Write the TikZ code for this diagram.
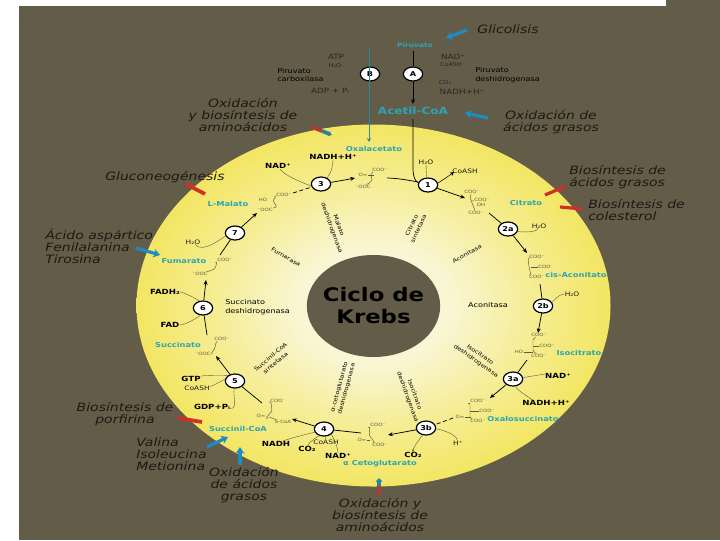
\documentclass[tikz,border=0pt]{standalone}
\usepackage{fontspec}
\setmainfont[FakeStretch=1.22]{DejaVu Sans}
\usepackage{xcolor}
\usetikzlibrary{arrows.meta,shapes.geometric}
\definecolor{slidebrown}{HTML}{635C48}
\definecolor{ringyellow}{HTML}{F3E663}
\definecolor{ringcream}{HTML}{F9F6D4}
\definecolor{metateal}{HTML}{2BA5B5}
\definecolor{pointblue}{HTML}{1E8CC4}
\definecolor{pointred}{HTML}{CF3129}
\definecolor{labeldark}{HTML}{1B1912}
\definecolor{moldark}{HTML}{5E5A3C}
\pgfdeclareradialshading{ringshade}{\pgfpoint{0bp}{0bp}}{color(0bp)=(ringcream); color(8bp)=(ringcream); color(17bp)=(ringyellow!58!ringcream); color(25bp)=(ringyellow); color(50bp)=(ringyellow)}
\begin{document}
\begin{tikzpicture}[
    x=0.75pt,y=-0.75pt,
    stepnode/.style={draw=black,ellipse,fill=white,line width=0.9pt,inner sep=0pt,minimum width=14.5pt,minimum height=10.5pt,font=\bfseries\fontsize{5}{5}\selectfont},
    pathway/.style={font=\itshape\fontsize{8.6}{9}\selectfont,text=labeldark,align=center,inner sep=0pt},
    metab/.style={font=\bfseries\fontsize{5.1}{6}\selectfont,text=metateal,inner sep=0pt},
    cofbold/.style={font=\bfseries\fontsize{5.3}{6}\selectfont,text=black,inner sep=0pt},
    cofsmall/.style={font=\fontsize{4.6}{6}\selectfont,text=labeldark,inner sep=0pt},
    darkcof/.style={font=\fontsize{5.4}{6}\selectfont,text=black!85,inner sep=0pt},
    enzyme/.style={font=\fontsize{5}{6.6}\selectfont,text=black,align=center,inner sep=0pt},
    rotenzyme/.style={enzyme,font=\fontsize{4.1}{5.6}\selectfont},
    molbit/.style={font=\fontsize{3.3}{4}\selectfont,text=moldark,inner sep=0.3pt},
    molline/.style={moldark,line width=0.35pt,rounded corners=1pt},
    flow/.style={-{Stealth[length=3.6pt,width=3pt]},line width=0.55pt,black},
    plainflow/.style={line width=0.55pt,black},
    cofline/.style={line width=0.3pt,moldark},
    bluepoint/.style={-{Stealth[length=5pt,width=6.5pt]},line width=2.4pt,pointblue},
    redpoint/.style={-{Stealth[length=3.5pt,width=4pt]},line width=2.4pt,pointred},
    redbar/.style={line width=2.8pt,pointred}
  ]
    \useasboundingbox (0,0) rectangle (720,540);
    \fill[white] (0,0) rectangle (720,540);
    \fill[slidebrown] (19,6) rectangle (720,540);
    \fill[slidebrown] (666,0) rectangle (720,6);

    % ring and hole
    \node[ellipse,minimum width=355.5pt,minimum height=271.5pt,inner sep=0pt,shading=ringshade] (ring) at (373.5,305.5) {};
    \node[ellipse,fill=slidebrown,minimum width=100pt,minimum height=76.5pt,inner sep=0pt] (hole) at (373.5,306) {};
    \node[font=\bfseries\fontsize{14}{16.5}\selectfont,text=black,align=center,inner sep=0pt] (title) at (hole) {Ciclo de\\Krebs};

    % steps of the cycle
    \node[stepnode] (stepA) at (413,74) {A};
    \node[stepnode] (stepB) at (370,74) {B};
    \node[stepnode] (step1) at (428,185) {1};
    \node[stepnode] (step2a) at (508,229) {2a};
    \node[stepnode] (step2b) at (543,306) {2b};
    \node[stepnode] (step3a) at (513,379) {3a};
    \node[stepnode] (step3b) at (426,428) {3b};
    \node[stepnode] (step4) at (324,429) {4};
    \node[stepnode] (step5) at (235,381) {5};
    \node[stepnode] (step6) at (203,308) {6};
    \node[stepnode] (step7) at (235,233) {7};
    \node[stepnode] (step8) at (321,184) {3};

    % metabolites
    \node[metab,font=\bfseries\fontsize{4.6}{5}\selectfont] (piruvato) at (415,45) {Piruvato};
    \node[metab,font=\bfseries\fontsize{7.4}{8}\selectfont] (acetil) at (413,111) {Acetil-CoA};
    \node[metab] (oxalo) at (374,149) {Oxalacetato};
    \node[metab] (citrato) at (526,203) {Citrato};
    \node[metab] (cisacon) at (576,275) {cis-Aconitato};
    \node[metab] (isocit) at (579,353) {Isocitrato};
    \node[metab] (oxsuc) at (523,419) {Oxalosuccinato};
    \node[metab] (cetog) at (380,464) {α\ Cetoglutarato};
    \node[metab] (succoa) at (238,429) {Succinil-CoA};
    \node[metab] (succ) at (178,345) {Succinato};
    \node[metab] (fuma) at (184,261) {Fumarato};
    \node[metab] (malato) at (228,204) {L-Malato};

    % pathways around the ring
    \node[pathway] (glico) at (508,29) {Glicolisis};
    \node[pathway] (oxaam) at (243,115) {Oxidación\\y biosíntesis de\\aminoácidos};
    \node[pathway] (oxgr) at (551,122) {Oxidación de\\ácidos grasos};
    \node[pathway,align=left,anchor=west] (bgr) at (569,177) {Biosíntesis de\\ácidos grasos};
    \node[pathway,align=left,anchor=west] (bcol) at (588,210) {Biosíntesis de\\colesterol};
    \node[pathway] (gluco) at (165,177) {Gluconeogénesis};
    \node[pathway,align=left,anchor=west] (aspar) at (45,246) {Ácido aspártico\\Fenilalanina\\Tirosina};
    \node[pathway] (porf) at (125,414) {Biosíntesis de\\porfirina};
    \node[pathway,align=left,anchor=west] (valina) at (136,454) {Valina\\Isoleucina\\Metionina};
    \node[pathway] (oxgr2) at (244,485) {Oxidación\\de ácidos\\grasos};
    \node[pathway] (oxaam2) at (380,515) {Oxidación y\\biosíntesis de\\aminoácidos};

    % enzymes
    \node[enzyme,align=left,anchor=west] (pcarb) at (277,75) {Piruvato\\carboxilasa};
    \node[enzyme,align=left,anchor=west] (pdes) at (475,75) {Piruvato\\deshidrogenasa};
    \node[rotenzyme,rotate=-70] (emal) at (335,227) {Malato\\deshidrogenasa};
    \node[rotenzyme,rotate=65] (ecit) at (415,227) {Citrato\\sintetasa};
    \node[rotenzyme,rotate=30] (eacon) at (467,254) {Aconitasa};
    \node[enzyme] (eacon2) at (488,305) {Aconitasa};
    \node[rotenzyme,rotate=-35] (eiso) at (478,358) {Isocitrato\\deshidrogenasa};
    \node[rotenzyme,rotate=-70] (eiso2) at (411,396) {Isocitrato\\deshidrogenasa};
    \node[rotenzyme,rotate=75] (ecet) at (343,388) {α-cetoglutarato\\deshidrogenasa};
    \node[rotenzyme,rotate=40] (esuc) at (273,360) {Succinil-CoA\\sintetasa};
    \node[enzyme,align=left,anchor=west] (esdh) at (225,307) {Succinato\\deshidrogenasa};
    \node[rotenzyme,rotate=-30] (efum) at (286,257) {Fumarasa};

    % cofactors
    \node[darkcof] (atp) at (336,57) {ATP};
    \node[darkcof,font=\fontsize{4}{5}\selectfont] (hoB) at (335,66) {H₂O};
    \node[darkcof] (adp) at (330,91) {ADP + Pᵢ};
    \node[darkcof] (nadA) at (453,57) {NAD⁺};
    \node[darkcof,font=\fontsize{4}{5}\selectfont] (coaA) at (451,65) {CoASH};
    \node[darkcof,font=\fontsize{4}{5}\selectfont] (coA) at (445,83) {CO₂};
    \node[darkcof] (nadhA) at (462,92) {NADH+H⁺};
    \node[cofbold] (nad8) at (278,166) {NAD⁺};
    \node[cofbold] (nadh8) at (333,157) {NADH+H⁺};
    \node[cofsmall] (ho1) at (426,162) {H₂O};
    \node[cofsmall] (coa1) at (465,171) {CoASH};
    \node[cofsmall] (ho2a) at (539,226) {H₂O};
    \node[cofsmall] (ho2b) at (572,294) {H₂O};
    \node[cofbold] (nad3a) at (558,376) {NAD⁺};
    \node[cofbold] (nadh3a) at (546,403) {NADH+H⁺};
    \node[cofbold] (co3b) at (413,455) {CO₂};
    \node[cofsmall] (h3b) at (458,443) {H⁺};
    \node[cofbold] (nad4) at (338,456) {NAD⁺};
    \node[cofbold] (co4) at (307,449) {CO₂};
    \node[cofsmall] (coa4) at (326,442) {CoASH};
    \node[cofbold] (nadh4) at (276,444) {NADH};
    \node[cofbold] (gtp) at (191,379) {GTP};
    \node[cofsmall] (coa5) at (197,388) {CoASH};
    \node[cofbold] (gdp) at (212,407) {GDP+Pᵢ};
    \node[cofbold] (fadh) at (165,292) {FADH₂};
    \node[cofbold] (fad) at (170,325) {FAD};
    \node[cofsmall] (ho7) at (193,242) {H₂O};

    % molecule pieces
    \foreach \name/\pos/\txt in {
        oxa1/{380,170}/COO⁻,oxa2/{363,175}/O=,oxa3/{363,187}/⁻OOC,
        cit1/{472,192}/COO⁻,cit2/{482,200}/COO⁻,cit3/{481,205}/OH,cit4/{476,213}/COO⁻,
        cis1/{537,257}/COO⁻,cis2/{546,267}/COO⁻,cis3/{537,277}/COO⁻,
        iso1/{539,335}/COO⁻,iso2/{547,346}/COO⁻,iso3/{519,352}/HO,iso4/{539,356}/COO⁻,
        oxs1/{478,401}/COO⁻,oxs2/{487,411}/COO⁻,oxs3/{460,417}/O=,oxs4/{478,421}/COO⁻,
        keto1/{378,425}/COO⁻,keto2/{362,440}/O=,keto3/{380,445}/COO⁻,
        suc1/{278,401}/COO⁻,suc2/{283,422}/S-CoA,suc3/{261,416}/O=,
        sn1/{222,339}/COO⁻,sn2/{203,354}/⁻OOC,
        fu1/{225,260}/COO⁻,fu2/{200,274}/⁻OOC,
        ma1/{284,195}/COO⁻,ma2/{263,200}/HO,ma3/{265,210}/⁻OOC}
      {\node[molbit] (\name) at (\pos) {\txt};}

    \draw[molline] (oxa1) -- ++(-9,3) -- ++(1,8) -- (oxa3);
    \draw[molline] (oxa2) -- ++(11,0);
    \draw[molline] (cit1) -- ++(-2,5) -- ++(2,6) -- (cit4);
    \draw[molline] (cit2) -- ++(-10,1);
    \draw[molline] (cis1) -- ++(-9,1) -- ++(1,9) -- ++(2,8) -- (cis3);
    \draw[molline] (cis2) -- ++(-15,0);
    \draw[molline] (iso1) -- ++(-6,4) -- ++(0,12) -- (iso4);
    \draw[molline] (iso2) -- ++(-14,0);
    \draw[molline] (iso3) -- ++(14,0);
    \draw[molline] (oxs1) -- ++(-8,2) -- ++(0,15) -- (oxs4);
    \draw[molline] (oxs2) -- ++(-17,0);
    \draw[molline] (oxs3) -- ++(10,0);
    \draw[molline] (keto1) -- ++(-8,2) -- ++(-1,8) -- ++(6,8) -- (keto3);
    \draw[molline] (keto2) -- ++(8,0);
    \draw[molline] (suc1) -- ++(-7,1) -- ++(1,9) -- ++(-6,7) -- (suc3);
    \draw[molline] (suc2) -- ++(-14,-5);
    \draw[molline] (sn1) -- ++(-6,3) -- ++(-1,6) -- ++(-4,6) -- (sn2);
    \draw[molline] (fu1) -- ++(-8,2) -- ++(-2,7) -- (fu2);
    \draw[molline] (ma1) -- ++(-8,1) -- ++(-3,5) -- ++(4,6) -- (ma3);

    % ends of the open arrows
    \foreach \name/\pos in {
        piruvS/{413,51},acetS/{413,104},acetE/{413,119},bTop/{369,47},bEnd/{369,142},
        endOne/{465,198},fromCit/{489,213},endTwoA/{527,253},fromCis/{540,284},
        endTwoB/{538,333},fromIso/{527,360},endThreeA/{490,398},fromOxs/{453,418},
        endThreeB/{388,435},fromKeto/{361,433},endFour/{292,419},fromSuc/{262,403},
        endFive/{216,356},fromSn/{207,335},endSix/{206,280},fromFu/{220,255},
        endSeven/{257,213},fromMa/{293,193},endEight/{355,178},fromOxa/{387,178},
        coaEnd/{454,172},coEnd/{436,83}}
      {\coordinate (\name) at (\pos);}

    % entry line
    \draw[plainflow] (piruvS) -- (stepA);
    \draw[flow] (stepA) -- (acetS);
    \draw[plainflow] (acetE) -- (413,168) .. controls (413,178) and (416,182) .. (step1);
    \draw[metateal!85!black,line width=0.6pt,-{Stealth[length=3pt,width=3pt]}] (bTop) -- (bEnd);

    % the cycle
    \draw[flow] (step1) -- (endOne);
    \draw[plainflow] (fromCit) -- (step2a);
    \draw[flow] (step2a) -- (endTwoA);
    \draw[plainflow] (fromCis) -- (step2b);
    \draw[flow] (step2b) -- (endTwoB);
    \draw[plainflow] (fromIso) -- (step3a);
    \draw[flow] (step3a) -- (endThreeA);
    \draw[plainflow,densely dashed] (fromOxs) -- (step3b);
    \draw[flow] (step3b) -- (endThreeB);
    \draw[plainflow] (fromKeto) -- (step4);
    \draw[flow] (step4) -- (endFour);
    \draw[plainflow] (fromSuc) -- (step5);
    \draw[flow] (step5) -- (endFive);
    \draw[plainflow] (fromSn) -- (step6);
    \draw[flow] (step6) -- (endSix);
    \draw[plainflow] (fromFu) -- (step7);
    \draw[flow] (step7) -- (endSeven);
    \draw[plainflow,densely dashed] (fromMa) -- (step8);
    \draw[flow] (step8) .. controls +(12,-2) and +(-10,2) .. (endEight);
    \draw[plainflow] (fromOxa) .. controls +(12,0) and +(-10,-3) .. (step1);

    % cofactor lines
    \draw[cofline] (atp) .. controls +(15,-1) and +(-1,-8) .. (stepB);
    \draw[cofline] (hoB) .. controls +(12,0) and +(-2,-6) .. (stepB);
    \draw[cofline] (adp) .. controls +(24,0) and +(-2,8) .. (stepB);
    \draw[cofline] (nadA) .. controls +(-15,0) and +(1,-8) .. (stepA);
    \draw[cofline] (coaA) .. controls +(-15,0) and +(2,-6) .. (stepA);
    \draw[cofline,-{Stealth[length=2pt,width=2pt]}] (stepA) .. controls +(3,6) and +(-8,0) .. (coEnd);
    \draw[cofline] (stepA) .. controls +(3,12) and +(-12,0) .. (nadhA);
    \draw[cofline] (nad8) .. controls +(6,10) and +(-10,2) .. (step8);
    \draw[cofline] (nadh8) .. controls +(0,14) and +(6,-6) .. (step8);
    \draw[cofline] (ho1) .. controls +(0,8) and +(-1,-6) .. (step1);
    \draw[line width=0.4pt,black,-{Stealth[length=3pt,width=3pt]}] (step1) .. controls +(10,-2) and +(-8,6) .. (coaEnd);
    \draw[cofline] (ho2a) .. controls +(-3,7) and +(12,3) .. (step2a);
    \draw[cofline] (ho2b) .. controls +(-14,0) and +(10,-4) .. (step2b);
    \draw[cofline] (nad3a) .. controls +(-14,-2) and +(14,-2) .. (step3a);
    \draw[cofline] (step3a) .. controls +(4,12) and +(-10,-2) .. (nadh3a);
    \draw[cofline] (step3b) .. controls +(12,1) and +(-2,-10) .. (h3b);
    \draw[cofline,-{Stealth[length=2pt,width=2pt]}] (step3b) .. controls +(-4,8) and +(0,-8) .. (co3b);
    \draw[cofline] (nad4) .. controls +(0,-10) and +(8,6) .. (step4);
    \draw[cofline] (coa4) -- (step4);
    \draw[cofline] (co4) .. controls +(2,-8) and +(-4,6) .. (step4);
    \draw[cofline] (nadh4) .. controls +(14,-6) and +(-12,4) .. (step4);
    \draw[cofline] (gtp) .. controls +(14,-4) and +(-8,-6) .. (step5);
    \draw[cofline] (coa5) .. controls +(16,-2) and +(-10,-2) .. (step5);
    \draw[cofline] (gdp) .. controls +(26,2) and +(-2,16) .. (step5);
    \draw[cofline] (fadh) .. controls +(18,0) and +(-4,-8) .. (step6);
    \draw[cofline] (fad) .. controls +(16,0) and +(-3,8) .. (step6);
    \draw[cofline] (ho7) .. controls +(10,12) and +(-12,4) .. (step7);

    % pointers
    \foreach \name/\from/\to in {
        pg/{467,30}/{446,38},pgr/{488,118}/{465,113},pfe/{136,248}/{160,255},
        pva/{207,447}/{228,437},pox/{240,465}/{240,447}}
      {\coordinate (\name a) at (\from); \coordinate (\name b) at (\to);
       \draw[bluepoint] (\name a) -- (\name b);}
    \foreach \name/\from/\to in {
        rbg/{545,195}/{566,186},rbc/{560,207}/{583,209}}
      {\coordinate (\name a) at (\from); \coordinate (\name b) at (\to);
       \draw[redpoint] (\name a) -- (\name b);}
    \foreach \name/\from/\to in {
        rgl/{186,184}/{205,194},rpo/{178,418}/{202,422}}
      {\coordinate (\name a) at (\from); \coordinate (\name b) at (\to);
       \draw[redbar] (\name a) -- (\name b);}

    % two-colour pointers
    \coordinate (mixA) at (312,127);
    \coordinate (mixAm) at (322,131);
    \coordinate (mixAe) at (332,135);
    \draw[redbar,pointred!75!slidebrown] (mixA) -- (mixAm);
    \draw[line width=2.8pt,pointblue!70!slidebrown,-{Stealth[length=3pt,width=4pt]}] (mixAm) -- (mixAe);
    \coordinate (mixB) at (379,495);
    \coordinate (mixBm) at (379,486);
    \coordinate (mixBe) at (379,478);
    \draw[redbar,pointred!70!slidebrown] (mixB) -- (mixBm);
    \draw[line width=2.8pt,pointblue!75!slidebrown,-{Stealth[length=3pt,width=5.5pt]}] (mixBm) -- (mixBe);
  \end{tikzpicture}
\end{document}
